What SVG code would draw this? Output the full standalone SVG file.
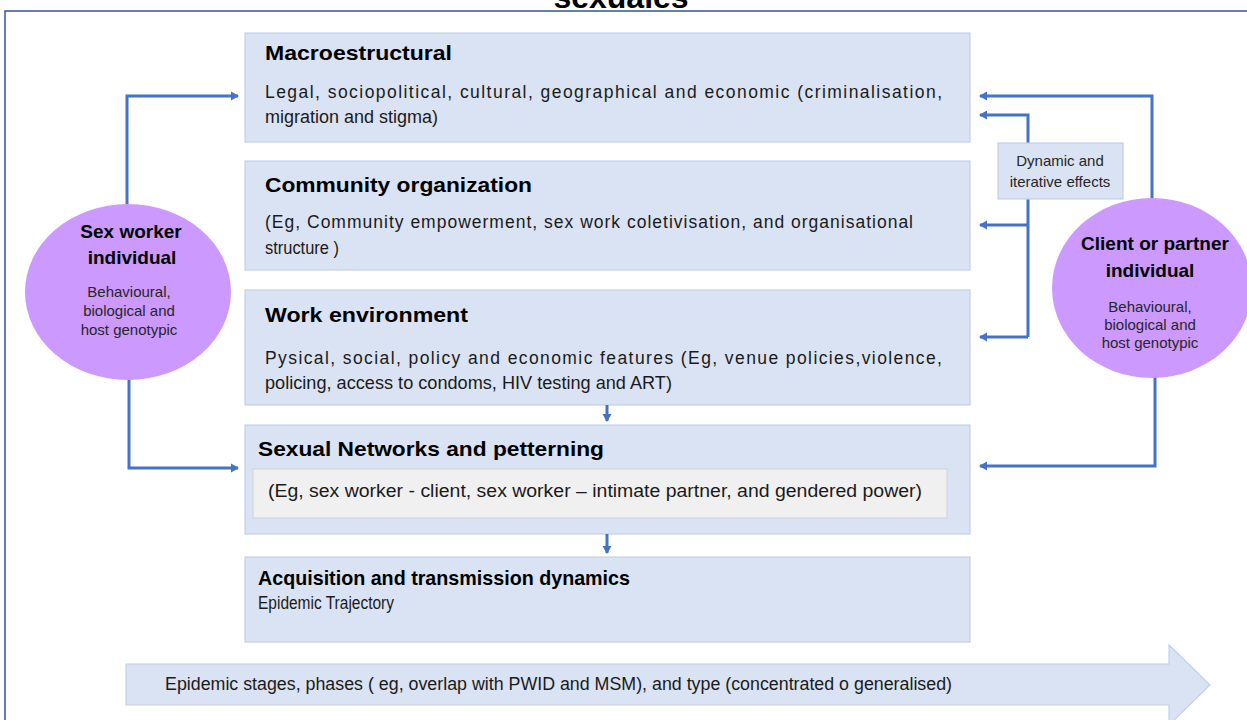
<svg xmlns="http://www.w3.org/2000/svg" width="1247" height="720" viewBox="0 0 1247 720">
<style>
.box{fill:#DAE3F3;stroke:#C3CFE6;stroke-width:1.2}
.inner{fill:#F0F0F0;stroke:#D2D6DC;stroke-width:1.2}
.circ{fill:#CC99FF;stroke:none}
.t{font-family:"Liberation Sans",Arial,sans-serif;font-weight:bold;font-size:21px;fill:#000}
.b{font-family:"Liberation Sans",Arial,sans-serif;font-size:17.5px;fill:#1a1a1a}
.ct{font-family:"Liberation Sans",Arial,sans-serif;font-weight:bold;font-size:19px;fill:#000;text-anchor:middle}
.cs{font-family:"Liberation Sans",Arial,sans-serif;font-size:15px;fill:#262626;text-anchor:middle}
.conn{fill:none;stroke:#4472C4;stroke-width:3}
</style>
<defs>
<marker id="ah" markerWidth="10" markerHeight="10" refX="7" refY="5" orient="auto" markerUnits="userSpaceOnUse">
<path d="M0,0.5 L8,5 L0,9.5 Z" fill="#4472C4"/>
</marker>
</defs>
<rect width="1247" height="720" fill="#fff"/>
<rect x="5" y="11" width="1260" height="730" fill="none" stroke="#2F5597" stroke-width="1.5"/>
<text x="621" y="8" text-anchor="middle" font-family="Liberation Sans,Arial,sans-serif" font-weight="bold" font-size="32">sexuales</text>

<g id="macro">
<rect class="box" x="245" y="33" width="725" height="109"/>
<text class="t" x="265" y="60" textLength="187" lengthAdjust="spacingAndGlyphs">Macroestructural</text>
<text class="b" x="265" y="98" textLength="677">Legal, sociopolitical, cultural, geographical and economic (criminalisation,</text>
<text class="b" x="265" y="123" textLength="173" lengthAdjust="spacingAndGlyphs">migration and stigma)</text>
</g>
<g id="community">
<rect class="box" x="245" y="161" width="725" height="109"/>
<text class="t" x="265" y="192" textLength="267" lengthAdjust="spacingAndGlyphs">Community organization</text>
<text class="b" x="265" y="228" textLength="648">(Eg, Community empowerment, sex work coletivisation, and organisational</text>
<text class="b" x="265" y="254" textLength="74" lengthAdjust="spacingAndGlyphs">structure )</text>
</g>
<g id="work">
<rect class="box" x="245" y="290" width="725" height="115"/>
<text class="t" x="265" y="322" textLength="203" lengthAdjust="spacingAndGlyphs">Work environment</text>
<text class="b" x="265" y="364" textLength="677">Pysical, social, policy and economic features (Eg, venue policies,violence,</text>
<text class="b" x="265" y="389" textLength="407" lengthAdjust="spacingAndGlyphs">policing, access to condoms, HIV testing and ART)</text>
</g>
<g id="sexual">
<rect class="box" x="245" y="425" width="725" height="109"/>
<text class="t" x="258" y="456" textLength="346" lengthAdjust="spacingAndGlyphs">Sexual Networks and petterning</text>
<rect class="inner" x="253" y="469" width="694" height="49"/>
<text class="b" x="268" y="497" textLength="654" lengthAdjust="spacingAndGlyphs">(Eg, sex worker - client, sex worker – intimate partner, and gendered power)</text>
</g>
<g id="acquisition">
<rect class="box" x="245" y="557" width="725" height="85"/>
<text class="t" x="258" y="585" textLength="372" lengthAdjust="spacingAndGlyphs">Acquisition and transmission dynamics</text>
<text class="b" x="258" y="609" font-size="15.5" textLength="136" lengthAdjust="spacingAndGlyphs">Epidemic Trajectory</text>
</g>
<g id="stages">
<polygon class="box" points="126,664 1169,664 1169,645 1210,685 1169,725 1169,705 126,705"/>
<text class="b" x="165" y="690" textLength="787" lengthAdjust="spacingAndGlyphs">Epidemic stages, phases ( eg, overlap with PWID and MSM), and type (concentrated o generalised)</text>
</g>

<g id="connectors">
<path class="conn" d="M127,210 V96 H238" marker-end="url(#ah)"/>
<path class="conn" d="M129,375 V468 H238" marker-end="url(#ah)"/>
<path class="conn" d="M1152,202 V96 H980" marker-end="url(#ah)"/>
<path class="conn" d="M1155,374 V466 H980" marker-end="url(#ah)"/>
<path class="conn" d="M1028,337 V115 H980" marker-end="url(#ah)"/>
<path class="conn" d="M1028,225 H980" marker-end="url(#ah)"/>
<path class="conn" d="M1028,337 H980" marker-end="url(#ah)"/>
<path class="conn" d="M607,405 V421" marker-end="url(#ah)"/>
<path class="conn" d="M607,534 V553" marker-end="url(#ah)"/>
</g>

<g id="dynamic">
<rect class="box" x="998" y="143" width="125" height="56"/>
<text class="cs" x="1060" y="166" font-size="13">Dynamic and</text>
<text class="cs" x="1060" y="187" font-size="13">iterative effects</text>
</g>
<g id="sexworker">
<ellipse class="circ" cx="128" cy="292" rx="103" ry="88"/>
<text class="ct" x="131" y="238">Sex worker</text>
<text class="ct" x="132" y="264">individual</text>
<text class="cs" x="129" y="297">Behavioural,</text>
<text class="cs" x="129" y="316">biological and</text>
<text class="cs" x="129" y="335">host genotypic</text>
</g>
<g id="client">
<ellipse class="circ" cx="1152" cy="288" rx="100" ry="90"/>
<text class="ct" x="1155" y="250" font-size="20">Client or partner</text>
<text class="ct" x="1150" y="277">individual</text>
<text class="cs" x="1150" y="312">Behavioural,</text>
<text class="cs" x="1150" y="330">biological and</text>
<text class="cs" x="1150" y="348">host genotypic</text>
</g>
</svg>
